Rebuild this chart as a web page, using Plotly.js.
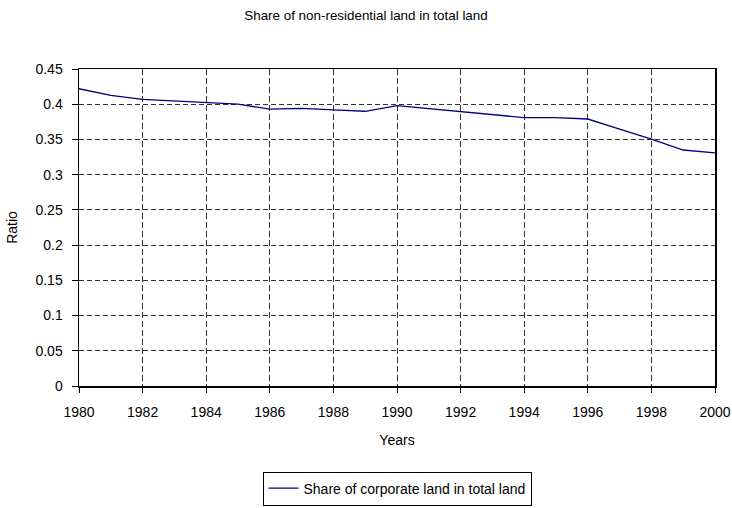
<!DOCTYPE html>
<html>
<head>
<meta charset="utf-8">
<script src="https://cdn.plot.ly/plotly-3.0.1.min.js"></script>
<style>html,body{margin:0;padding:0;background:#fff;}#chart{width:732px;height:508px;}</style>
</head>
<body>
<div id="chart"></div>
<script>
var years = [1980,1981,1982,1983,1984,1985,1986,1987,1988,1989,1990,1991,1992,1993,1994,1995,1996,1997,1998,1999,2000];
var corporateShare = [0.422,0.4125,0.407,0.405,0.4025,0.400,0.393,0.394,0.392,0.390,0.398,0.394,0.390,0.386,0.381,0.381,0.379,0.3645,0.3505,0.335,0.331];
var seriesName = "Share of corporate land in total land";
var chartTitle = "Share of non-residential land in total land";
var xTicks = [1980,1982,1984,1986,1988,1990,1992,1994,1996,1998,2000];
var yTicks = [0,0.05,0.1,0.15,0.2,0.25,0.3,0.35,0.4,0.45];
var yTickText = ["0","0.05","0.1","0.15","0.2","0.25","0.3","0.35","0.4","0.45"];

var FONT = "'Liberation Sans', Arial, sans-serif";

var trace = {
  x: years, y: corporateShare, type: 'scatter', mode: 'lines', name: seriesName,
  line: {color: '#000080', width: 1.3}
};

var layout = {
  width: 732, height: 508,
  margin: {l: 79, r: 17, t: 69, b: 122, autoexpand: false},
  paper_bgcolor: '#fff', plot_bgcolor: '#fff',
  font: {family: FONT, size: 14, color: '#000'},
  title: {text: chartTitle, font: {family: FONT, size: 13.4, color: '#000'}, x: 0.5, xref: 'container', xanchor: 'center', y: 0.97, yref: 'container', yanchor: 'middle'},
  showlegend: true,
  legend: {orientation: 'h', x: 0.5, xanchor: 'center', y: -0.27, yanchor: 'top', bordercolor: '#000', borderwidth: 1, font: {family: FONT, size: 14}},
  xaxis: {
    range: [1980, 2000], tickvals: xTicks,
    showline: true, linecolor: '#000', linewidth: 1.5, mirror: true,
    ticks: 'outside', ticklen: 5, tickcolor: '#000', ticklabelstandoff: 8,
    showgrid: true, gridcolor: '#333', griddash: '6px,3px', gridwidth: 1,
    zeroline: false, automargin: false,
    title: {text: 'Years', font: {family: FONT, size: 14}, standoff: 16}
  },
  yaxis: {
    range: [0, 0.45], tickvals: yTicks, ticktext: yTickText,
    showline: true, linecolor: '#000', linewidth: 1.5, mirror: true,
    ticks: 'outside', ticklen: 6, tickcolor: '#000', ticklabelstandoff: 6,
    showgrid: true, gridcolor: '#333', griddash: '5px,3px', gridwidth: 1,
    zeroline: false, automargin: false,
    title: {text: 'Ratio', font: {family: FONT, size: 14}, standoff: 14}
  }
};

Plotly.newPlot('chart', [trace], layout, {displayModeBar: false, staticPlot: true});
</script>
</body>
</html>
